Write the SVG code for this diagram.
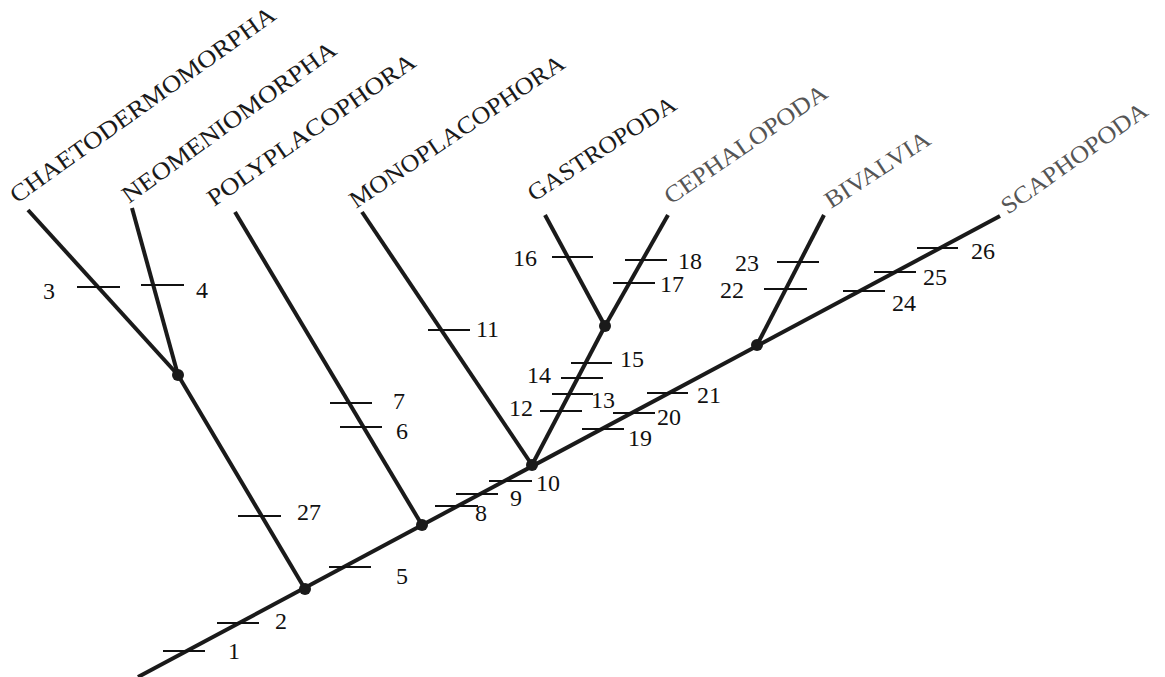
<svg xmlns="http://www.w3.org/2000/svg" width="1165" height="677" viewBox="0 0 1165 677">
<style>
.br{stroke:#1a1a1a;stroke-width:4;fill:none;stroke-linecap:butt}
.tk{stroke:#111;stroke-width:1.8}
.dot{fill:#1a1a1a}
.num{font-family:"Liberation Serif","Times New Roman",serif;font-size:24px;fill:#111}
.tx{font-family:"Liberation Serif","Times New Roman",serif;font-size:24px;fill:#1a1a1a}
.tx.g{fill:#555}
</style>
<rect width="1165" height="677" fill="#fff"/>
<g id="connectors">
<line class="br" x1="138" y1="677" x2="1000" y2="216"/>
<line class="br" x1="305" y1="589" x2="178" y2="375"/>
<line class="br" x1="178" y1="375" x2="28" y2="210"/>
<line class="br" x1="178" y1="375" x2="132" y2="208"/>
<line class="br" x1="422" y1="525" x2="235" y2="212"/>
<line class="br" x1="532" y1="465" x2="362" y2="212"/>
<line class="br" x1="532" y1="465" x2="605" y2="326"/>
<line class="br" x1="605" y1="326" x2="545" y2="215"/>
<line class="br" x1="605" y1="326" x2="668" y2="215"/>
<line class="br" x1="757" y1="345" x2="824" y2="215"/>
</g>
<g id="node-n1"><circle class="dot" cx="305" cy="589" r="6"/></g>
<g id="node-n2"><circle class="dot" cx="178" cy="375" r="6"/></g>
<g id="node-n3"><circle class="dot" cx="422" cy="525" r="6"/></g>
<g id="node-n4"><circle class="dot" cx="532" cy="465" r="6"/></g>
<g id="node-n5"><circle class="dot" cx="605" cy="326" r="6"/></g>
<g id="node-n6"><circle class="dot" cx="757" cy="345" r="6"/></g>
<g id="node-chaetodermomorpha"><text class="tx" transform="translate(17,204) rotate(-35.5)" textLength="320" lengthAdjust="spacingAndGlyphs">CHAETODERMOMORPHA</text></g>
<g id="node-neomeniomorpha"><text class="tx" transform="translate(129,204) rotate(-35.8)" textLength="258" lengthAdjust="spacingAndGlyphs">NEOMENIOMORPHA</text></g>
<g id="node-polyplacophora"><text class="tx" transform="translate(214,207) rotate(-34.8)" textLength="248" lengthAdjust="spacingAndGlyphs">POLYPLACOPHORA</text></g>
<g id="node-monoplacophora"><text class="tx" transform="translate(356,209) rotate(-34)" textLength="254" lengthAdjust="spacingAndGlyphs">MONOPLACOPHORA</text></g>
<g id="node-gastropoda"><text class="tx" transform="translate(534,202) rotate(-33)" textLength="172" lengthAdjust="spacingAndGlyphs">GASTROPODA</text></g>
<g id="node-cephalopoda"><text class="tx g" transform="translate(671,205) rotate(-34.5)" textLength="192" lengthAdjust="spacingAndGlyphs">CEPHALOPODA</text></g>
<g id="node-bivalvia"><text class="tx g" transform="translate(831,209) rotate(-33)" textLength="121" lengthAdjust="spacingAndGlyphs">BIVALVIA</text></g>
<g id="node-scaphopoda"><text class="tx g" transform="translate(1008,215) rotate(-35.5)" textLength="174" lengthAdjust="spacingAndGlyphs">SCAPHOPODA</text></g>
<g id="characters">
<line class="tk" x1="163" y1="651" x2="205" y2="651"/><text class="num" x="228" y="659">1</text>
<line class="tk" x1="217" y1="623" x2="259" y2="623"/><text class="num" x="275" y="629">2</text>
<line class="tk" x1="77" y1="287" x2="120" y2="287"/><text class="num" x="43" y="299">3</text>
<line class="tk" x1="141" y1="285" x2="184" y2="285"/><text class="num" x="196" y="298">4</text>
<line class="tk" x1="329" y1="567" x2="371" y2="567"/><text class="num" x="396" y="584">5</text>
<line class="tk" x1="340" y1="427" x2="382" y2="427"/><text class="num" x="396" y="439">6</text>
<line class="tk" x1="330" y1="403" x2="372" y2="403"/><text class="num" x="393" y="409">7</text>
<line class="tk" x1="435" y1="506" x2="478" y2="506"/><text class="num" x="475" y="521">8</text>
<line class="tk" x1="456" y1="494" x2="498" y2="494"/><text class="num" x="510" y="506">9</text>
<line class="tk" x1="489" y1="481" x2="532" y2="481"/><text class="num" x="536" y="491">10</text>
<line class="tk" x1="428" y1="330" x2="470" y2="330"/><text class="num" x="476" y="337">11</text>
<line class="tk" x1="540" y1="411" x2="582" y2="411"/><text class="num" x="509" y="416">12</text>
<line class="tk" x1="552" y1="394" x2="593" y2="394"/><text class="num" x="591" y="408">13</text>
<line class="tk" x1="561" y1="378" x2="603" y2="378"/><text class="num" x="527" y="383">14</text>
<line class="tk" x1="571" y1="363" x2="612" y2="363"/><text class="num" x="620" y="367">15</text>
<line class="tk" x1="552" y1="257" x2="593" y2="257"/><text class="num" x="513" y="266">16</text>
<line class="tk" x1="613" y1="283" x2="655" y2="283"/><text class="num" x="660" y="292">17</text>
<line class="tk" x1="625" y1="260" x2="667" y2="260"/><text class="num" x="678" y="269">18</text>
<line class="tk" x1="582" y1="429" x2="624" y2="429"/><text class="num" x="628" y="446">19</text>
<line class="tk" x1="613" y1="413" x2="655" y2="413"/><text class="num" x="657" y="425">20</text>
<line class="tk" x1="647" y1="393" x2="688" y2="393"/><text class="num" x="697" y="403">21</text>
<line class="tk" x1="764" y1="289" x2="807" y2="289"/><text class="num" x="720" y="298">22</text>
<line class="tk" x1="777" y1="262" x2="819" y2="262"/><text class="num" x="735" y="271">23</text>
<line class="tk" x1="843" y1="291" x2="885" y2="291"/><text class="num" x="892" y="311">24</text>
<line class="tk" x1="874" y1="272" x2="916" y2="272"/><text class="num" x="923" y="285">25</text>
<line class="tk" x1="917" y1="248" x2="958" y2="248"/><text class="num" x="971" y="259">26</text>
<line class="tk" x1="238" y1="516" x2="281" y2="516"/><text class="num" x="297" y="520">27</text>
</g>
</svg>
